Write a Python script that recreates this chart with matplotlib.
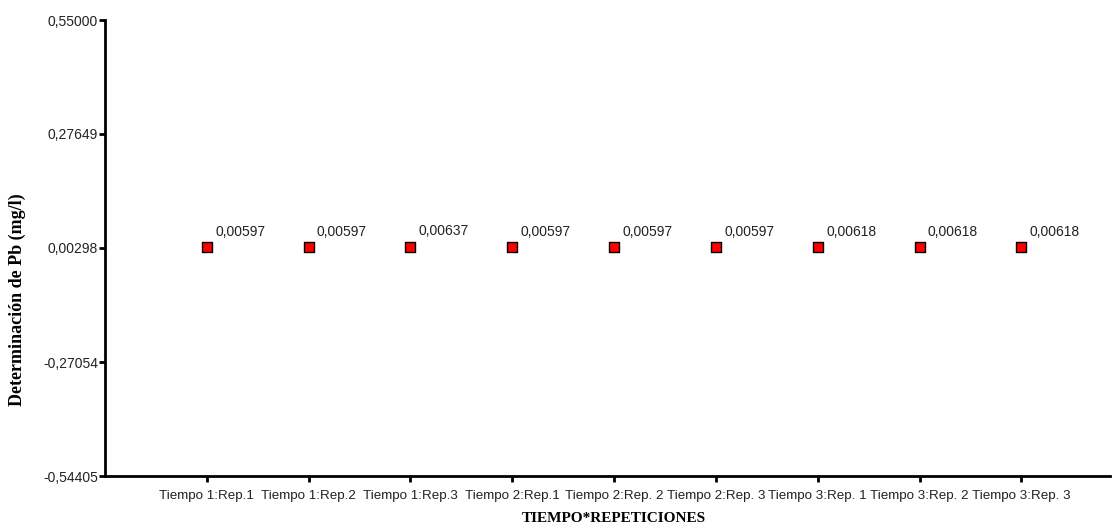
import matplotlib
matplotlib.use("Agg")
import matplotlib.pyplot as plt
import numpy as np

# categories on the x axis
categorias = ["Tiempo 1:Rep.1", "Tiempo 1:Rep.2", "Tiempo 1:Rep.3", "Tiempo 2:Rep.1",
              "Tiempo 2:Rep. 2", "Tiempo 2:Rep. 3", "Tiempo 3:Rep. 1", "Tiempo 3:Rep. 2",
              "Tiempo 3:Rep. 3"]
# measured Pb (mg/l)
valores = [0.00597, 0.00597, 0.00637, 0.00597, 0.00597, 0.00597, 0.00618, 0.00618, 0.00618]
# y axis ticks as shown
y_ticks = [0.55000, 0.27649, 0.00298, -0.27054, -0.54405]


def fmt(v):
    return f"{v:.5f}".replace(".", ",")


fig = plt.figure(figsize=(11.12, 5.26), dpi=100)
ax = fig.add_axes([105 / 1112, 50 / 526, 1005 / 1112, 456 / 526])

x = np.arange(len(categorias))
ax.scatter(x, valores, marker="s", s=60, c="#ff0000", edgecolors="black",
           linewidths=1.0, zorder=3, clip_on=False)
for xi, v in zip(x, valores):
    ax.annotate(fmt(v), (xi, v), xytext=(6, 8), textcoords="offset points",
                fontsize=10, family="Liberation Sans", color="#222222")

ax.set_xlim(-1, 8.87)
ax.set_ylim(y_ticks[-1], y_ticks[0])
ax.set_xticks(x)
ax.set_xticklabels(categorias, fontsize=9.6, family="Liberation Sans", color="#222222")
ax.set_yticks(y_ticks)
ax.set_yticklabels([fmt(t) for t in y_ticks], fontsize=10, family="Liberation Sans",
                   color="#222222")

for s in ["top", "right"]:
    ax.spines[s].set_visible(False)
for s in ["left", "bottom"]:
    ax.spines[s].set_linewidth(2)
ax.tick_params(direction="out", length=4, width=2)
ax.tick_params(axis="y", pad=1)
ax.tick_params(axis="x", pad=6)

fig.text(614 / 1112, 1 - 518 / 526, "TIEMPO*REPETICIONES", ha="center", va="center",
         fontsize=11, fontweight="bold", family="Liberation Serif")
fig.text(17 / 1112, 1 - 300 / 526, "Determinación de Pb (mg/l)", ha="center", va="center",
         rotation=90, fontsize=13, fontweight="bold", family="Liberation Serif")

fig.savefig("out.png", dpi=100)
